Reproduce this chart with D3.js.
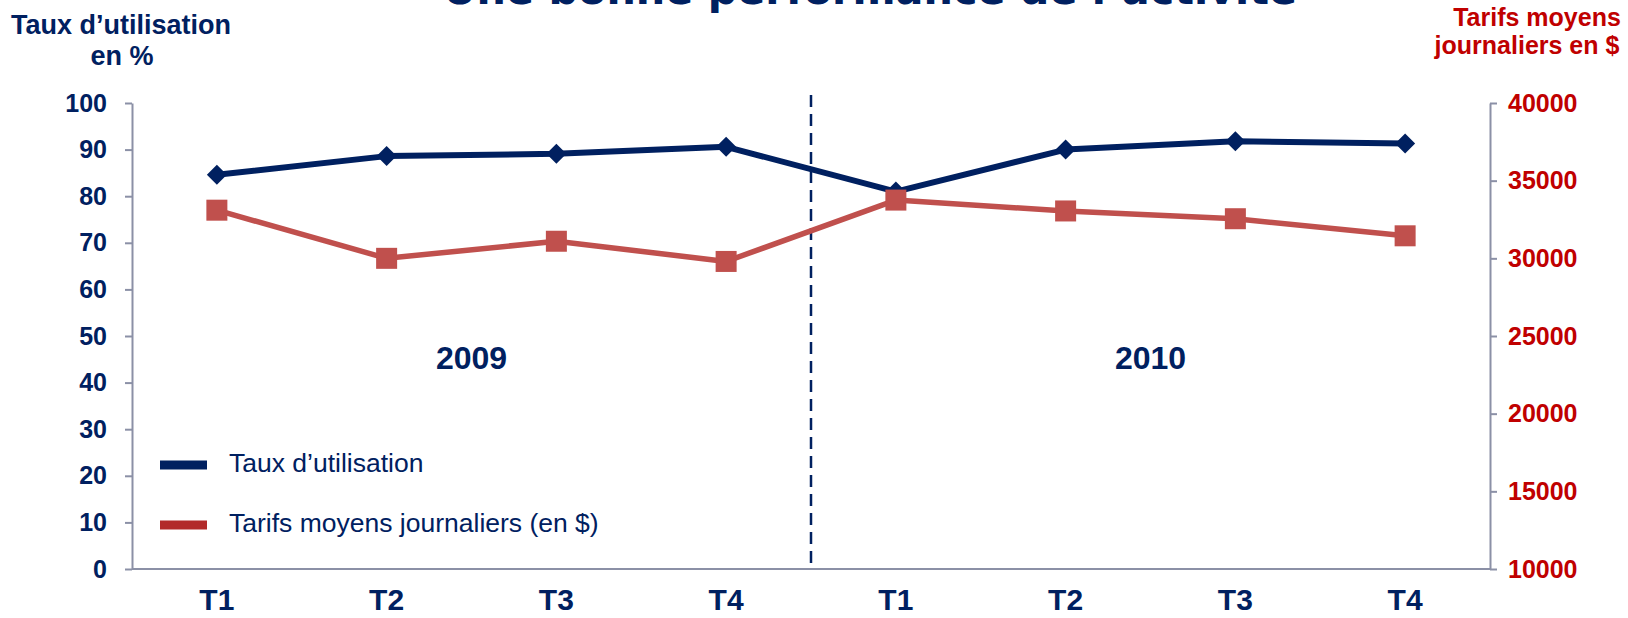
<!DOCTYPE html>
<html>
<head>
<meta charset="utf-8">
<script src="https://cdn.jsdelivr.net/npm/d3@7"></script>
<style>
  body { margin: 0; background: #fff; }
  svg { display: block; font-family: "Liberation Sans", Arial, sans-serif; }
</style>
</head>
<body>
<div id="chart"></div>
<script>
// Chart data
var categories = ["T1", "T2", "T3", "T4", "T1", "T2", "T3", "T4"];
var years = ["2009", "2010"];
var tauxUtilisation = [84.6, 88.6, 89.1, 90.6, 81.0, 90.0, 91.8, 91.3];
var tarifsMoyens = [33100, 30000, 31100, 29800, 33750, 33050, 32550, 31450];
var leftTicks = [0, 10, 20, 30, 40, 50, 60, 70, 80, 90, 100];
var rightTicks = [10000, 15000, 20000, 25000, 30000, 35000, 40000];
var legendLabels = ["Taux d\u2019utilisation", "Tarifs moyens journaliers (en $)"];

var w = 1628;
var h = 618;
var margin = { top: 103, right: 138, bottom: 49, left: 132 };

var navy = "#002060";
var redLine = "#C0504D";
var redText = "#C00000";
var axisGrey = "#8B90A6";

var svg = d3.select("#chart")
    .append("svg")
    .attr("width", w)
    .attr("height", h);

// scales
var x = d3.scaleBand()
    .domain(d3.range(categories.length))
    .range([margin.left, w - margin.right]);

var yLeft = d3.scaleLinear()
    .domain([0, 100])
    .range([h - margin.bottom, margin.top]);

var yRight = d3.scaleLinear()
    .domain([10000, 40000])
    .range([h - margin.bottom, margin.top]);

var cx = function(i) { return x(i) + x.bandwidth() / 2; };

// title (cut off at the top of the slide)
svg.append("text")
    .attr("x", 870)
    .attr("y", 4)
    .attr("text-anchor", "middle")
    .attr("textLength", 854)
    .attr("lengthAdjust", "spacingAndGlyphs")
    .style("font-family", "'DejaVu Sans', sans-serif")
    .style("font-weight", "bold")
    .style("font-size", "41px")
    .style("fill", navy)
    .text("Une bonne performance de l\u2019activit\u00e9");

// axis titles
var leftTitle = svg.append("text")
    .attr("text-anchor", "middle")
    .style("font-weight", "bold")
    .style("font-size", "27px")
    .style("fill", navy);
leftTitle.append("tspan").attr("x", 121).attr("y", 34).text("Taux d\u2019utilisation");
leftTitle.append("tspan").attr("x", 122).attr("y", 65).text("en %");

var rightTitle = svg.append("text")
    .attr("text-anchor", "middle")
    .style("font-weight", "bold")
    .style("font-size", "25px")
    .style("fill", redText);
rightTitle.append("tspan").attr("x", 1537).attr("y", 26).text("Tarifs moyens");
rightTitle.append("tspan").attr("x", 1527).attr("y", 54).text("journaliers en $");

// left axis
var gLeft = svg.append("g")
    .attr("transform", "translate(" + margin.left + ",0)")
    .call(d3.axisLeft(yLeft).tickValues(leftTicks).tickSize(7).tickSizeOuter(0).tickPadding(18));
gLeft.select(".domain").attr("stroke", axisGrey).attr("stroke-width", 2);
gLeft.selectAll(".tick line").attr("stroke", axisGrey).attr("stroke-width", 2);
gLeft.selectAll(".tick text")
    .style("font-family", "'Liberation Sans', Arial, sans-serif")
    .style("font-weight", "bold")
    .style("font-size", "25px")
    .style("fill", navy);

// right axis
var gRight = svg.append("g")
    .attr("transform", "translate(" + (w - margin.right) + ",0)")
    .call(d3.axisRight(yRight).tickValues(rightTicks).tickSize(7).tickSizeOuter(0).tickPadding(11).tickFormat(d3.format("d")));
gRight.select(".domain").attr("stroke", axisGrey).attr("stroke-width", 2);
gRight.selectAll(".tick line").attr("stroke", axisGrey).attr("stroke-width", 2);
gRight.selectAll(".tick text")
    .style("font-family", "'Liberation Sans', Arial, sans-serif")
    .style("font-weight", "bold")
    .style("font-size", "25px")
    .style("fill", redText);

// x axis line (no ticks)
svg.append("line")
    .attr("x1", margin.left)
    .attr("x2", w - margin.right)
    .attr("y1", h - margin.bottom)
    .attr("y2", h - margin.bottom)
    .attr("stroke", axisGrey)
    .attr("stroke-width", 2);

// category labels
svg.selectAll(".cat")
    .data(categories)
    .enter()
    .append("text")
    .attr("class", "cat")
    .attr("x", function(d, i) { return cx(i); })
    .attr("y", 610)
    .attr("text-anchor", "middle")
    .style("font-weight", "bold")
    .style("font-size", "30px")
    .style("fill", navy)
    .text(function(d) { return d; });

// year separator
var sepX = x(4);
svg.append("line")
    .attr("x1", sepX)
    .attr("x2", sepX)
    .attr("y1", 95)
    .attr("y2", h - margin.bottom)
    .attr("stroke", navy)
    .attr("stroke-width", 2.5)
    .attr("stroke-dasharray", "12,7");

// year labels, centered on each half
svg.selectAll(".year")
    .data(years)
    .enter()
    .append("text")
    .attr("class", "year")
    .attr("x", function(d, i) { return x(i * 4 + 2); })
    .attr("y", 369)
    .attr("text-anchor", "middle")
    .style("font-weight", "bold")
    .style("font-size", "32px")
    .style("fill", navy)
    .text(function(d) { return d; });

// red line (tarifs, right axis)
var lineRight = d3.line()
    .x(function(d, i) { return cx(i); })
    .y(function(d) { return yRight(d); });

svg.append("path")
    .datum(tarifsMoyens)
    .attr("d", lineRight)
    .attr("fill", "none")
    .attr("stroke", redLine)
    .attr("stroke-width", 5.5)
    .attr("stroke-linejoin", "round");

// blue line (taux, left axis)
var lineLeft = d3.line()
    .x(function(d, i) { return cx(i); })
    .y(function(d) { return yLeft(d); });

svg.append("path")
    .datum(tauxUtilisation)
    .attr("d", lineLeft)
    .attr("fill", "none")
    .attr("stroke", navy)
    .attr("stroke-width", 6)
    .attr("stroke-linejoin", "round");

// diamonds
svg.selectAll(".diamond")
    .data(tauxUtilisation)
    .enter()
    .append("path")
    .attr("class", "diamond")
    .attr("d", "M0,-10L10,0L0,10L-10,0Z")
    .attr("transform", function(d, i) { return "translate(" + cx(i) + "," + yLeft(d) + ")"; })
    .attr("fill", navy);

// squares
svg.selectAll(".square")
    .data(tarifsMoyens)
    .enter()
    .append("rect")
    .attr("class", "square")
    .attr("x", function(d, i) { return cx(i) - 10.5; })
    .attr("y", function(d) { return yRight(d) - 10.5; })
    .attr("width", 21)
    .attr("height", 21)
    .attr("fill", redLine);

// legend
var legendColors = [navy, "#B22A2A"];
var legend = svg.selectAll(".legend")
    .data(legendLabels)
    .enter()
    .append("g")
    .attr("class", "legend")
    .attr("transform", function(d, i) { return "translate(160," + (465 + i * 60) + ")"; });

legend.append("rect")
    .attr("x", 0)
    .attr("y", -4.5)
    .attr("width", 47)
    .attr("height", 9)
    .attr("fill", function(d, i) { return legendColors[i]; });

legend.append("text")
    .attr("x", 69)
    .attr("y", 7)
    .style("font-size", "26.5px")
    .style("fill", navy)
    .text(function(d) { return d; });
</script>
</body>
</html>
